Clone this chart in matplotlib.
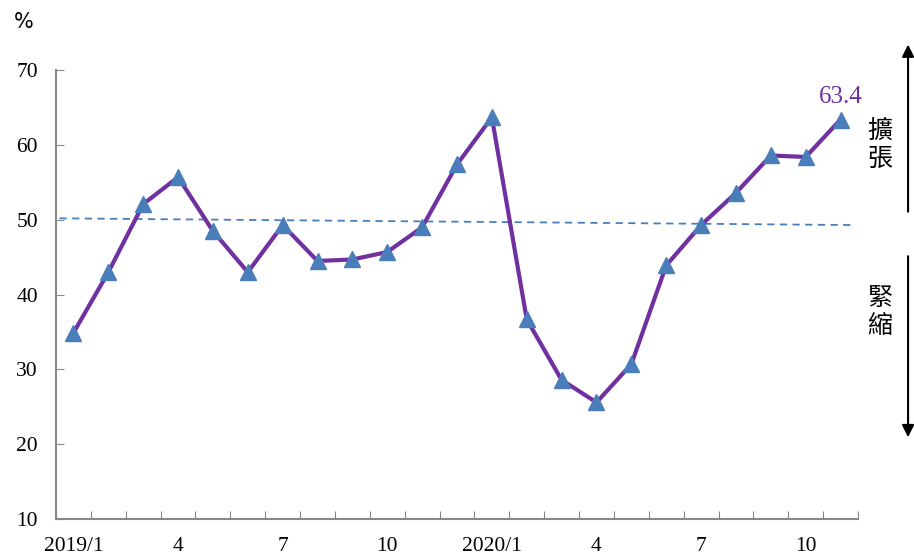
import matplotlib.pyplot as plt
from matplotlib.patches import FancyArrowPatch

months = ["2019/1", "2", "3", "4", "5", "6", "7", "8", "9", "10", "11", "12",
          "2020/1", "2", "3", "4", "5", "6", "7", "8", "9", "10", "11"]
pmi = [34.9, 43.0, 52.1, 55.7, 48.5, 43.0, 49.3, 44.5, 44.7, 45.7, 49.0, 57.4,
       63.7, 36.7, 28.6, 25.6, 30.7, 43.9, 49.3, 53.6, 58.6, 58.4, 63.4]
shown_ticks = ["2019/1", "4", "7", "10", "2020/1", "4", "7", "10"]
shown_pos = [0, 3, 6, 9, 12, 15, 18, 21]
ref_line = [50.2, 49.3]  # dashed 50 reference, as drawn (slightly sloped)
last_label = "63.4"

plt.rcParams['font.family'] = ['Liberation Serif', 'Noto Sans CJK TC']

fig = plt.figure(figsize=(9.14, 5.57), dpi=100)
ax = fig.add_axes([0.0613, 0.068, 0.8774, 0.806])

x = list(range(len(pmi)))
ax.plot([-0.4, len(pmi) - 0.6], ref_line, linestyle=(0, (4, 3)), color='#4A7EBB', lw=1.3, zorder=2)
ax.plot(x, pmi, color='#7030A0', lw=3, zorder=3)
ax.plot(x, pmi, linestyle='none', marker='^', ms=11, color='#4A7EBB', zorder=4)

ax.annotate(last_label, (x[-1], pmi[-1]), xytext=(0, 8), textcoords='offset points',
            ha='center', va='bottom', color='#7030A0', fontsize=18)

ax.set_xlim(-0.5, len(pmi) - 0.5)
ax.set_ylim(10, 70)
ax.set_yticks(range(10, 71, 10))
ax.set_xticks([i + 0.5 for i in range(-1, len(pmi))], minor=False)
ax.set_xticklabels([])
ax.set_xticks(shown_pos, minor=True)
ax.set_xticklabels(shown_ticks, minor=True)
ax.tick_params(axis='x', which='major', direction='in', length=6, color='#888888')
ax.tick_params(axis='x', which='minor', length=0, pad=13, labelsize=15.5)
ax.tick_params(axis='y', direction='in', length=6, color='#888888', labelsize=15.5, pad=13)

for s in ['top', 'right']:
    ax.spines[s].set_visible(False)
for s in ['left', 'bottom']:
    ax.spines[s].set_color('#888888')
    ax.spines[s].set_linewidth(1.5)

fig.text(0.015, 0.96, "%", fontsize=15, family='DejaVu Sans', va='center')

# expansion / contraction arrows
fig.patches.append(FancyArrowPatch(
    (0.9935, 0.615), (0.9935, 0.925), transform=fig.transFigure,
    arrowstyle='-|>', mutation_scale=18, color='black', lw=1.5))
fig.patches.append(FancyArrowPatch(
    (0.9935, 0.545), (0.9935, 0.21), transform=fig.transFigure,
    arrowstyle='-|>', mutation_scale=18, color='black', lw=1.5))
fig.text(0.963, 0.74, "擴\n張", fontsize=18, ha='center', va='center',
         family=['Noto Sans CJK TC'], linespacing=1.1)
fig.text(0.963, 0.44, "緊\n縮", fontsize=18, ha='center', va='center',
         family=['Noto Sans CJK TC'], linespacing=1.1)

fig.savefig("out.png", dpi=100)
